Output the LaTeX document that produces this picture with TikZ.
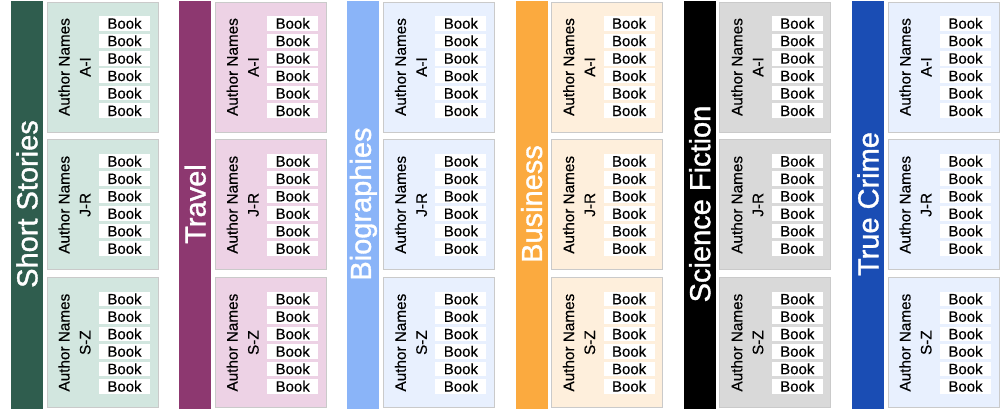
\documentclass[tikz,border=0pt]{standalone}
\usepackage{fontspec}
\setmainfont[FakeBold=0.4]{Liberation Sans}
\newfontfamily\shelffont[FakeBold=1.2]{Liberation Sans}
\definecolor{barA}{HTML}{2F5D4E}
\definecolor{panA}{HTML}{D2E6DF}
\definecolor{barB}{HTML}{8D3870}
\definecolor{panB}{HTML}{EDD2E5}
\definecolor{barC}{HTML}{8AB4F8}
\definecolor{panC}{HTML}{E8F0FE}
\definecolor{barD}{HTML}{FBAA3F}
\definecolor{panD}{HTML}{FEEFDC}
\definecolor{barE}{HTML}{000000}
\definecolor{panE}{HTML}{D9D9D9}
\definecolor{barF}{HTML}{1A4DB4}
\definecolor{panF}{HTML}{E8F0FE}
\definecolor{edgegray}{HTML}{CACACA}
\tikzset{
  shelfbar/.style={inner sep=0pt, outer sep=0pt, minimum width=32pt, minimum height=420pt, anchor=north west},
  shelftitle/.style={rotate=90, text=white, inner sep=0pt, font=\shelffont\fontsize{29}{32}\selectfont},
  panelbox/.style={draw=edgegray, line width=0.8pt, inner sep=0pt, outer sep=0pt, minimum width=111pt, minimum height=130pt},
  authorlbl/.style={rotate=90, align=center, inner sep=0pt, font=\fontsize{15.3}{21}\selectfont},
  bookbox/.style={fill=white, inner sep=0pt, minimum width=51pt, minimum height=14.5pt, font=\fontsize{15}{15}\selectfont}
}
\begin{document}
\begin{tikzpicture}[x=1pt,y=-1pt]
\useasboundingbox (0,0) rectangle (1000,408);
\foreach \i/\ttl/\bc/\pc in {0/Short Stories/barA/panA,1/Travel/barB/panB,2/Biographies/barC/panC,3/Business/barD/panD,4/Science Fiction/barE/panE,5/True Crime/barF/panF} {
  \pgfmathsetmacro\xo{168.2*\i}
  \node[shelfbar, fill=\bc] (bar\i) at (11+\xo,1) {};
  \node[shelftitle] (title\i) at (27+\xo,204) {\ttl};
  \foreach \j/\rng in {0/A-I,1/J-R,2/S-Z} {
    \pgfmathsetmacro\yc{67+137.8*\j}
    \node[panelbox, fill=\pc] (panel\i\j) at (102.5+\xo,\yc) {};
    \node[authorlbl] (author\i\j) at (74.5+\xo,\yc) {Author Names\\\rng};
    \foreach \k in {0,...,5} {
      \node[bookbox] (book\i\j\k) at (124.5+\xo,\yc+17.46*\k-43.65) {Book};
    }
  }
}
\end{tikzpicture}
\end{document}
